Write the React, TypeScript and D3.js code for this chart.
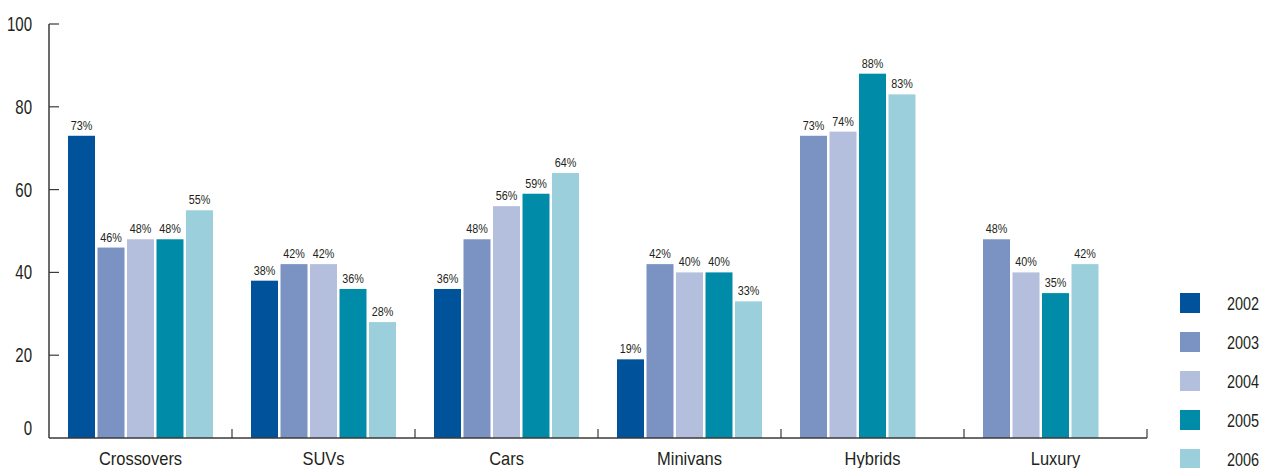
import React from "react";
import * as d3 from "d3";

// Share of buyers by segment and model year (percent)
const categories = ["Crossovers", "SUVs", "Cars", "Minivans", "Hybrids", "Luxury"];
const years = ["2002", "2003", "2004", "2005", "2006"];
const v2002: (number | null)[] = [73, 38, 36, 19, null, null];
const v2003: (number | null)[] = [46, 42, 48, 42, 73, 48];
const v2004: (number | null)[] = [48, 42, 56, 40, 74, 40];
const v2005: (number | null)[] = [48, 36, 59, 40, 88, 35];
const v2006: (number | null)[] = [55, 28, 64, 33, 83, 42];
const seriesValues = [v2002, v2003, v2004, v2005, v2006];
const yTicks = [0, 20, 40, 60, 80, 100];
const colors = ["#00529b", "#7b93c3", "#b4bedd", "#008ba8", "#9ccfdc"];

const W = 1267;
const H = 468;
const FONT = "'Liberation Sans', Arial, sans-serif";
const TEXT_COLOR = "#231f20";
const AXIS_COLOR = "#3a3a3a";

// Condensed text: horizontally squeezed around its anchor point
function CText(props: {
  x: number;
  y: number;
  size: number;
  sx: number;
  anchor?: "start" | "middle" | "end";
  dy?: string;
  children: React.ReactNode;
}) {
  const { x, y, size, sx, anchor = "start", dy, children } = props;
  return (
    <text
      transform={`translate(${x},${y}) scale(${sx},1)`}
      textAnchor={anchor}
      dy={dy}
      fontSize={size}
      fill={TEXT_COLOR}
    >
      {children}
    </text>
  );
}

export default function App() {
  const x = d3.scaleBand<string>().domain(categories).range([49, 1147]);
  const y = d3.scaleLinear().domain([0, 100]).range([438, 24]);
  const slot = d3
    .scaleBand<number>()
    .domain(d3.range(years.length))
    .range([0, x.bandwidth()])
    .paddingInner(2.5 / 29.5)
    .paddingOuter((183 - 145) / 2 / 29.5);
  const barW = slot.bandwidth();

  return (
    <svg
      width={W}
      height={H}
      style={{ position: "absolute", left: 0, top: 0, background: "#fff" }}
      fontFamily={FONT}
    >
      {/* bars; series missing from a segment close up to the left */}
      {categories.map((cat, ci) => {
        const present = seriesValues
          .map((s, si) => ({ si, v: s[ci] }))
          .filter((d) => d.v !== null) as { si: number; v: number }[];
        return (
          <g key={cat}>
            {present.map((d, i) => {
              const bx = (x(cat) as number) + (slot(i) as number);
              return (
                <g key={d.si}>
                  <rect x={bx} y={y(d.v)} width={barW} height={y(0) - y(d.v)} fill={colors[d.si]} />
                  <CText x={bx + barW / 2} y={y(d.v) - 6} size={13} sx={0.83} anchor="middle">
                    {d.v}%
                  </CText>
                </g>
              );
            })}
          </g>
        );
      })}

      {/* y axis */}
      <line x1={49} x2={49} y1={y(100)} y2={y(0)} stroke={AXIS_COLOR} strokeWidth={1.5} />
      {yTicks.map((t) => (
        <g key={t}>
          {t > 0 && <line x1={49} x2={59} y1={y(t)} y2={y(t)} stroke={AXIS_COLOR} strokeWidth={1.2} />}
          <CText x={32} y={t === 0 ? y(t) - 10 : y(t)} dy="0.36em" size={19.5} sx={0.77} anchor="end">
            {t}
          </CText>
        </g>
      ))}

      {/* x axis */}
      <line x1={49} x2={1147} y1={y(0)} y2={y(0)} stroke={AXIS_COLOR} strokeWidth={1.5} />
      {categories.map((cat) => {
        const edge = (x(cat) as number) + x.bandwidth();
        return <line key={cat} x1={edge} x2={edge} y1={y(0)} y2={y(0) - 9} stroke={AXIS_COLOR} strokeWidth={1.2} />;
      })}
      {categories.map((cat) => (
        <CText key={cat} x={(x(cat) as number) + x.bandwidth() / 2} y={465} size={18.5} sx={0.89} anchor="middle">
          {cat}
        </CText>
      ))}

      {/* legend */}
      {years.map((yr, i) => (
        <g key={yr} transform={`translate(1180, ${293 + i * 39})`}>
          <rect width={20} height={20} fill={colors[i]} />
          <CText x={47} y={10} dy="0.36em" size={18.5} sx={0.78}>
            {yr}
          </CText>
        </g>
      ))}
    </svg>
  );
}
